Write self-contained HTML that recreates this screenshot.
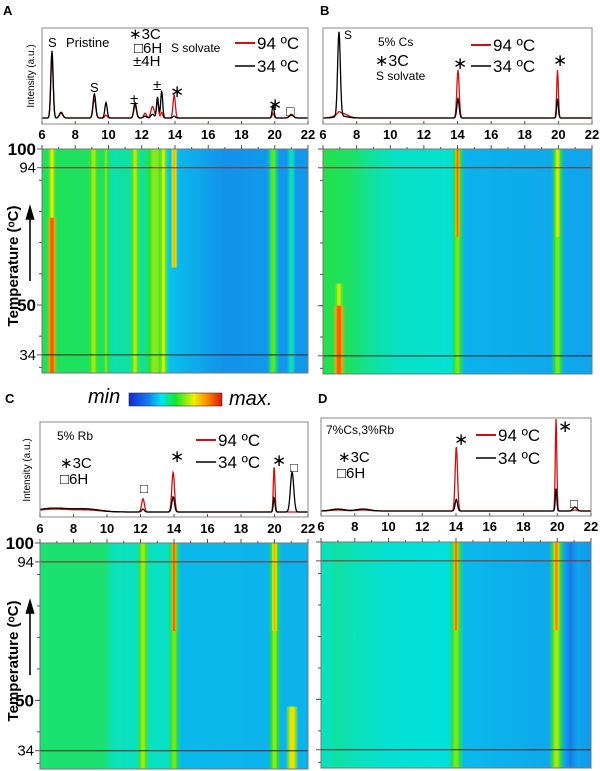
<!DOCTYPE html>
<html><head><meta charset="utf-8"><style>
html,body{margin:0;padding:0;background:#fff;}
svg{display:block;font-family:"Liberation Sans",Arial,sans-serif;}
</style></head><body>
<svg id="fig" width="600" height="771" viewBox="0 0 600 771" xmlns="http://www.w3.org/2000/svg">
<defs>
<linearGradient id="cbar" x1="0" x2="1" y1="0" y2="0">
<stop offset="0" stop-color="#1428d2"/><stop offset="0.2" stop-color="#1478f0"/><stop offset="0.35" stop-color="#00e6f0"/><stop offset="0.5" stop-color="#14e628"/><stop offset="0.7" stop-color="#f0f000"/><stop offset="0.85" stop-color="#fa8200"/><stop offset="1" stop-color="#dc140a"/>
</linearGradient>
</defs>
<g id="root"></g>
</svg>
<script>
// ---- data ----
const xTicks = [6,8,10,12,14,16,18,20,22];
const tempTickLabels = ["100","94","50","34"];
const tempTickValues = [100,94,50,34];
// XRD peaks: positions, heights (% of box), widths
const aPos = [6.6,7.15,9.15,9.85,11.6,12.2,12.65,12.95,13.2,13.95,19.9,21.0];
const a34 = [70,6,25,16,16,2,4,22,28,2,13,3];
const a94 = [64,5,20,3,13,5,12,18,6,24,5,4];
const aW  = [0.07,0.1,0.08,0.07,0.08,0.08,0.1,0.06,0.06,0.07,0.06,0.12];
const bPos = [6.95,7.1,14.03,19.95];
const b34 = [88,2,20,20];
const b94 = [2,5,50,50];
const bW  = [0.08,0.35,0.07,0.05];
const cPos = [6.8,8.8,12.15,13.95,19.98,21.05];
const c34 = [4,3,3,16,15,42];
const c94 = [3,2,14,42,48,0];
const cW  = [0.9,0.8,0.08,0.08,0.05,0.1];
const dPos = [7.0,8.5,14.02,19.93,21.05];
const d34 = [2,2,12,23,4];
const d94 = [1,1,66,96,1];
const dW  = [0.4,0.4,0.07,0.045,0.12];
// heatmap background (2θ breakpoints, intensity 0..1)
const aBgX = [6,9.5,10.3,12,13.5,13.7,17,19,22];
const aBgV = [0.47,0.46,0.4,0.42,0.4,0.3,0.23,0.24,0.24];
const bBgX = [6,7.6,9,10.5,13.8,14.4,22];
const bBgV = [0.48,0.46,0.41,0.38,0.37,0.28,0.26];
const cBgX = [6,9.8,10.4,13.8,14.3,22];
const cBgV = [0.45,0.45,0.39,0.38,0.29,0.28];
const dBgX = [6,7,8,10,13.5,14.5,20.4,20.8,21.2,22];
const dBgV = [0.38,0.41,0.39,0.37,0.36,0.29,0.26,0.2,0.26,0.24];
// heatmap stripes: position, width, tLow, tHigh, intensity
const aStX = [6.6,6.6,9.1,9.85,11.6,12.8,13.3,13.95,19.9,21.0];
const aStW = [0.18,0.15,0.22,0.14,0.18,0.4,0.14,0.12,0.2,0.15];
const aStL = [28,78,28,28,28,28,28,62,28,28];
const aStH = [78,100,100,100,100,100,100,100,100,100];
const aStV = [0.9,0.68,0.62,0.58,0.64,0.6,0.68,0.78,0.55,0.42];
const bStX = [6.95,6.95,14.0,14.0,19.95,19.95];
const bStW = [0.22,0.18,0.22,0.1,0.22,0.1];
const bStL = [28,50,28,72,28,72];
const bStH = [50,57,100,100,100,100];
const bStV = [0.9,0.66,0.58,0.88,0.58,0.72];
const cStX = [12.15,14.0,14.0,20.0,20.0,21.05];
const cStW = [0.22,0.22,0.1,0.22,0.1,0.22];
const cStL = [28,28,72,28,72,28];
const cStH = [100,100,100,100,100,48];
const cStV = [0.62,0.58,0.9,0.6,0.8,0.72];
const dStX = [14.0,14.0,19.95,19.95];
const dStW = [0.26,0.1,0.26,0.12];
const dStL = [28,72,28,72];
const dStH = [100,100,100,100];
const dStV = [0.58,0.88,0.62,0.85];

const NS="http://www.w3.org/2000/svg";
const root=document.getElementById('root');
const defs=document.querySelector('defs');
function mk(tag,attrs,parent,txt){const e=document.createElementNS(NS,tag);for(const k in attrs)e.setAttribute(k,attrs[k]);if(txt!==undefined)e.textContent=txt;(parent||root).appendChild(e);return e;}
const cmapS=[0,0.2,0.35,0.5,0.7,0.85,1];
const cmapC=[[20,40,210],[25,125,235],[0,225,235],[40,225,50],[240,240,0],[250,130,0],[220,20,10]];
function cmap(v){v=Math.max(0,Math.min(1,v));for(let i=1;i<cmapS.length;i++){if(v<=cmapS[i]){const f=(v-cmapS[i-1])/(cmapS[i]-cmapS[i-1]);const a=cmapC[i-1],b=cmapC[i];return 'rgb('+a.map((c,j)=>Math.round(c+(b[j]-c)*f)).join(',')+')';}}return 'rgb(220,20,10)';}
let gc=0;
function softGrad(color){
  const id='sg'+(gc++);
  const lg=mk('linearGradient',{id:id,x1:0,x2:1,y1:0,y2:0},defs);
  mk('stop',{offset:0,'stop-color':color,'stop-opacity':0},lg);
  mk('stop',{offset:0.3,'stop-color':color,'stop-opacity':1},lg);
  mk('stop',{offset:0.7,'stop-color':color,'stop-opacity':1},lg);
  mk('stop',{offset:1,'stop-color':color,'stop-opacity':0},lg);
  return 'url(#'+id+')';
}

function xrd(id,box,pos,h34,h94,w,base,labY){
  const g=mk('g',{});
  
  
  const xs=t=>box.x0+(t-6)/16*(box.x1-box.x0);
  const H=box.y1-box.y0;
  function path(hs,color,name){
    let d='';
    for(let px=0;px<=box.x1-box.x0;px+=0.5){
      const t=6+px/(box.x1-box.x0)*16;
      let s=0;for(let i=0;i<pos.length;i++){s+=hs[i]*Math.exp(-0.5*Math.pow((t-pos[i])/w[i],2));}
      const y=base-s*H/100;
      d+=(px?'L':'M')+(box.x0+px).toFixed(1)+','+Math.max(box.y0+1,y).toFixed(1);
    }
    const p=mk('path',{d:d,fill:'none',stroke:color,'stroke-width':1.3},g);
    
    
  }
  path(h94,'#d01010',id+'-curve-94C');
  path(h34,'#000',id+'-curve-34C');
  const r=mk('rect',{x:box.x0,y:box.y0,width:box.x1-box.x0,height:H,fill:'none',stroke:'#888','stroke-width':1},g);
  
  
  xTicks.forEach(t=>{
    mk('line',{x1:xs(t),x2:xs(t),y1:box.y1,y2:box.y1-3,stroke:'#555'},g);
    const tx=mk('text',{x:xs(t),y:labY,'font-size':13,'font-weight':'bold','text-anchor':'middle'},g,String(t));
    
    
  });
}
function heat(id,box,bgX,bgV,sX,sW,sL,sH,sV,tHigh,tLow,labels){
  const g=mk('g',{});
  
  
  const xs=t=>box.x0+(t-6)/16*(box.x1-box.x0);
  const ys=T=>box.y0+(tHigh-T)/(tHigh-tLow)*(box.y1-box.y0);
  const gid='bg'+id;
  const lg=mk('linearGradient',{id:gid,x1:0,x2:1,y1:0,y2:0},defs);
  bgX.forEach((x,i)=>mk('stop',{offset:((x-6)/16).toFixed(4),'stop-color':cmap(bgV[i])},lg));
  const bg=mk('rect',{x:box.x0,y:box.y0,width:box.x1-box.x0,height:box.y1-box.y0,fill:'url(#'+gid+')'},g);
  
  
  sX.forEach((x,i)=>{
    const y1=ys(Math.min(sH[i],tHigh)),y2=ys(Math.max(sL[i],tLow));
    const wpx=sW[i]/16*(box.x1-box.x0);
    const o=mk('rect',{x:xs(x)-wpx*1.75,y:y1,width:wpx*3.5,height:y2-y1,fill:softGrad(cmap(sV[i]-0.1))},g);
    
    
    const s=mk('rect',{x:xs(x)-wpx*0.8,y:y1,width:wpx*1.6,height:y2-y1,fill:softGrad(cmap(sV[i]))},g);
    
    
  });
  const l1=mk('line',{x1:box.x0,x2:box.x1,y1:ys(94),y2:ys(94),stroke:'#8a2a20','stroke-width':1},g);
  
  
  const l2=mk('line',{x1:box.x0,x2:box.x1,y1:ys(34),y2:ys(34),stroke:'#222','stroke-width':1},g);
  
  
  mk('rect',{x:box.x0,y:box.y0,width:box.x1-box.x0,height:box.y1-box.y0,fill:'none',stroke:'#777'},g);
  for(let t=6;t<=22;t++)mk('line',{x1:xs(t),x2:xs(t),y1:box.y0,y2:box.y0-(t%2?2:4),stroke:'#555'},g);
  for(let T=30;T<=100;T+=10)mk('line',{x1:box.x0,x2:box.x0-3,y1:ys(T),y2:ys(T),stroke:'#555'},g);
  tempTickValues.forEach(T=>mk('line',{x1:box.x0,x2:box.x0-5,y1:ys(T),y2:ys(T),stroke:'#555'},g));
  if(labels){
    tempTickValues.forEach((T,i)=>{
      const bold=(tempTickLabels[i]==='100'||tempTickLabels[i]==='50');
      const tx=mk('text',{x:box.x0-6,y:ys(T)+(bold?6:5),'font-size':bold?17:15,'font-weight':bold?'bold':'normal','text-anchor':'end'},g,tempTickLabels[i]);
      
      
    });
    const cy=(box.y0+box.y1)/2+5;
    const yt=mk('text',{x:0,y:0,'font-size':15,'font-weight':'bold','text-anchor':'middle',transform:'translate(18,'+cy+') rotate(-90)'},g,'Temperature (ᵒC)');
    
    
    const ar=mk('path',{d:'M30,'+(box.y0+132)+' L30,'+(box.y0+62)+' M26.5,'+(box.y0+70)+' L30,'+(box.y0+58)+' L33.5,'+(box.y0+70)+' Z',stroke:'#000','stroke-width':1.6,fill:'#000'},g);
    
    
  }
}
function T(x,y,s,txt,name,extra){const a={x:x,y:y,'font-size':s};Object.assign(a,extra||{});const t=mk('text',a,root,txt);return t;}
function legend(x,y1,y2,p){
  const a=mk('line',{x1:x,x2:x+20,y1:y1,y2:y1,stroke:'#d01010','stroke-width':2});
  
  T(x+22,y1+6,17,'94 ºC',p+'-legend-94C');
  const b=mk('line',{x1:x,x2:x+20,y1:y2,y2:y2,stroke:'#000','stroke-width':1.5});
  
  T(x+22,y2+6,17,'34 ºC',p+'-legend-34C');
}
function intens(x,cy){T(0,0,10,'Intensity (a.u.)','intensity-axis-title',{'text-anchor':'middle',transform:'translate('+x+','+cy+') rotate(-90)'});}

// Panel A
xrd('panel-a',{x0:42,x1:308,y0:28,y1:124},aPos,a34,a94,aW,118,139);
heat('panel-a',{x0:42,x1:308,y0:149,y1:373},aBgX,aBgV,aStX,aStW,aStL,aStH,aStV,100,28.2,true);
T(3,15,13,'A','panel-a-label',{'font-weight':'bold'});
intens(34,76);
T(48,47,13,'S','peak-marker');T(66,47,13,'Pristine','panel-a-sample');
T(129,39,15,'∗3C','legend-3c');T(134,53,15,'□6H','legend-6h');T(133,66,15,'±4H','legend-4h');
T(171,52,12,'S solvate','legend-solvate');
legend(235,43,66,'panel-a');
T(90,92,13,'S','peak-marker');T(130,104,15,'±','peak-marker');T(153,90,15,'±','peak-marker');
T(170,97,17,'∗','peak-marker');T(268,110,17,'∗','peak-marker');T(286,116,14,'□','peak-marker');

// Panel B
xrd('panel-b',{x0:323,x1:592,y0:28,y1:124},bPos,b34,b94,bW,118,139);
heat('panel-b',{x0:323,x1:592,y0:149,y1:374},bBgX,bBgV,bStX,bStW,bStL,bStH,bStV,100,28.2,false);
T(320,15,13,'B','panel-b-label',{'font-weight':'bold'});
T(344,39,12,'S','peak-marker');T(378,46,12,'5% Cs','panel-b-sample');
T(375,66,16,'∗3C','legend-3c');T(376,80,12,'S solvate','legend-solvate');
legend(471,45,66,'panel-b');
T(453,69,17,'∗','peak-marker');T(553,66,17,'∗','peak-marker');

// Colorbar
T(88,403,20,'min','colorbar-min',{'font-style':'italic'});
const cb=mk('rect',{x:129,y:393,width:93,height:13,fill:'url(#cbar)',stroke:'#333','stroke-width':0.6});

T(229,405,20,'max.','colorbar-max',{'font-style':'italic'});

// Panel C
xrd('panel-c',{x0:40,x1:308,y0:422,y1:517},cPos,c34,c94,cW,512,533);
heat('panel-c',{x0:40,x1:308,y0:543,y1:769},cBgX,cBgV,cStX,cStW,cStL,cStH,cStV,100,28.2,true);
T(5,403,13,'C','panel-c-label',{'font-weight':'bold'});
intens(30,470);
T(57,440,12,'5% Rb','panel-c-sample');
T(60,468,15,'∗3C','legend-3c');T(60,484,15,'□6H','legend-6h');
legend(196,440,462,'panel-c');
T(140,493,13,'□','peak-marker');T(170,462,17,'∗','peak-marker');T(272,466,17,'∗','peak-marker');T(290,472,13,'□','peak-marker');

// Panel D
xrd('panel-d',{x0:321,x1:591,y0:418,y1:516},dPos,d34,d94,dW,511,531);
heat('panel-d',{x0:321,x1:591,y0:542,y1:768},dBgX,dBgV,dStX,dStW,dStL,dStH,dStV,100,28.2,false);
T(318,403,13,'D','panel-d-label',{'font-weight':'bold'});
T(326,434,12,'7%Cs,3%Rb','panel-d-sample');
T(338,462,15,'∗3C','legend-3c');T(337,478,15,'□6H','legend-6h');
legend(476,435,458,'panel-d');
T(454,445,17,'∗','peak-marker');T(558,432,17,'∗','peak-marker');T(570,508,13,'□','peak-marker');
</script>
</body></html>
